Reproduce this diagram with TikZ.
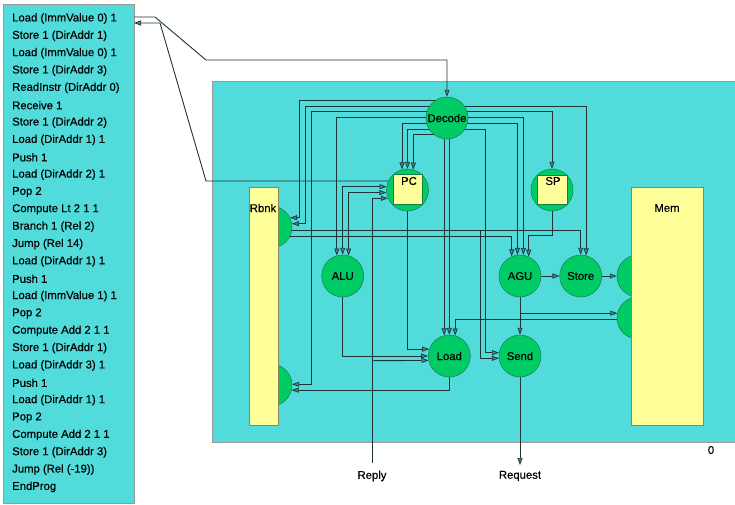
\documentclass[tikz,border=0pt]{standalone}
\usepackage{fontspec}
\setmainfont{Liberation Sans}[FakeBold=0.35]
\usetikzlibrary{arrows.meta,calc}
\definecolor{cyanbg}{RGB}{82,219,219}
\definecolor{grn}{RGB}{0,204,102}
\definecolor{grnb}{RGB}{25,125,75}
\definecolor{ylw}{RGB}{255,255,153}
\definecolor{ylwb}{RGB}{130,140,80}
\definecolor{wirec}{RGB}{30,52,52}
\definecolor{arrfill}{RGB}{60,140,140}
\pgfdeclarelayer{bg}\pgfdeclarelayer{wires}\pgfsetlayers{bg,wires,main}
\begin{document}
\begin{tikzpicture}[x=1pt,y=-1pt,
 font=\fontsize{11.3}{13}\selectfont,
 port/.style={circle,fill=grn,draw=grnb,line width=0.5pt,minimum size=42pt,inner sep=0pt},
 regbox/.style={rectangle,fill=ylw,draw=ylwb,line width=0.5pt,inner sep=0pt},
 wire/.style={draw=wirec,line width=0.9pt},
 arr/.style={wire,-{Triangle[length=7pt,width=5pt,fill=arrfill,line width=0.7pt]}},
 txt/.style={inner sep=0pt}]
\useasboundingbox (0,0) rectangle (735,504);
\begin{pgfonlayer}{bg}
\fill[white] (0,0) rectangle (735,504);
\node[draw=gray!80,fill=cyanbg,line width=0.8pt,minimum width=131pt,minimum height=499pt,inner sep=0pt,anchor=north west] (listing) at (3,4) {};
\node[draw=gray!80,fill=cyanbg,line width=0.8pt,minimum width=530pt,minimum height=361pt,inner sep=0pt,anchor=north west] (core) at (212,81) {};
\end{pgfonlayer}
\foreach \t [count=\i from 0] in {Load (ImmValue 0) 1,Store 1 (DirAddr 1),Load (ImmValue 0) 1,Store 1 (DirAddr 3),ReadInstr (DirAddr 0),Receive 1,Store 1 (DirAddr 2),Load (DirAddr 1) 1,Push 1,Load (DirAddr 2) 1,Pop 2,Compute Lt 2 1 1,Branch 1 (Rel 2),Jump (Rel 14),Load (DirAddr 1) 1,Push 1,Load (ImmValue 1) 1,Pop 2,Compute Add 2 1 1,Store 1 (DirAddr 1),Load (DirAddr 3) 1,Push 1,Load (DirAddr 1) 1,Pop 2,Compute Add 2 1 1,Store 1 (DirAddr 3),Jump (Rel (-19)),EndProg}
  \node[txt,anchor=west] (l\i) at (12,{18.5+17.35*\i}) {\t};
% nodes
\node[port] (rbu) at (271,227) {};
\node[port] (rbl) at (271,385) {};
\node[regbox,minimum width=29pt,minimum height=238pt] (rbnk) at (263.5,306) {};
\node[txt] (rbnklbl) at (263,208) {Rbnk};
\node[port] (memu) at (638,276) {};
\node[port] (meml) at (638,318) {};
\node[regbox,minimum width=72pt,minimum height=238pt] (mem) at (667,306) {};
\node[txt] (memlbl) at (667,208) {Mem};
\node[port] (decode) at (447,118) {Decode};
\node[port] (pc) at (407.5,190) {};
\node[regbox,draw=grnb,minimum width=29pt,minimum height=30pt] (pcsq) at (407.5,189) {};
\node[txt] (pclbl) at (409,181) {PC};
\node[port] (sp) at (552,190) {};
\node[regbox,draw=grnb,minimum width=30pt,minimum height=29pt] (spsq) at (552,189.5) {};
\node[txt] (splbl) at (553,181) {SP};
\node[port] (alu) at (342.7,276) {ALU};
\node[port] (agu) at (520,276) {AGU};
\node[port] (store) at (580.7,276) {Store};
\node[port] (load) at (449.3,356) {Load};
\node[port] (send) at (520,356) {Send};
\node[txt] (reply) at (372,476) {Reply};
\node[txt] (request) at (520,476) {Request};
\node[txt] (zero) at (711,450) {0};
\coordinate (lout) at (134,17);
\coordinate (lin) at (134,23);
\coordinate (replyend) at (372,463);
\coordinate (reqend) at (520,465);
\begin{pgfonlayer}{wires}
% external
\draw[arr] (lout) -- (155,17) -- (206,60) -- (decode.north |- 0,60) -- (decode.north);
\draw[arr] (pc.center |- 0,181) -- (206,181) -- (160,23) -- (lin);
\draw[arr] (replyend) |- (pc.203.3);
\draw[arr] (replyend |- 0,360.7) -- (load.192.9);
\draw[arr] (send.center) -- (reqend);
% decode left
\draw[arr] (decode.center |- 0,100.7) -- (299.3,100.7) |- (rbu.26.9);
\draw[arr] (decode.center |- 0,106) -- (305.3,106) |- (rbu.9.6);
\draw[arr] (decode.center |- 0,111.7) -- (311,111.7) |- (rbl.2);
\draw[arr] (decode.center |- 0,117.3) -| (alu.106.6);
\draw[arr] (decode.center |- 0,123.3) -| (pc.105.5);
\draw[arr] (decode.center |- 0,129) -| (pc.north);
\draw[arr] (decode.center |- 0,134.7) -| (pc.74.5);
% decode right
\draw[arr] (decode.center |- 0,106) -| (store.75.4);
\draw[arr] (decode.center |- 0,111.7) -| (sp.north);
\draw[arr] (decode.center |- 0,117.3) -| (agu.81.8);
\draw[arr] (decode.center |- 0,123.3) -| (agu.97.4);
\draw[arr] (decode.center |- 0,129) -- (485.3,129) |- (send.171);
\draw[arr] (load.104.6 |- decode.center) -- (load.104.6);
\draw[arr] (load.north |- decode.center) -- (load.north);
% others
\draw[arr] (pc.center) |- (load.161.4);
\draw[arr] (alu.center) |- (load.west);
\draw[arr] (load.center) |- (rbl.346.2);
\draw[arr] (sp.center) -- (sp.center |- 0,235) -| (agu.66.7);
\draw[arr] (agu.east) -- (store.west);
\draw[arr] (store.east) -- (memu.west);
\draw[arr] (agu.center) |- (meml.167.1);
\draw[arr] (agu.south) -- (send.north);
\draw[arr] (meml.center |- 0,319.3) -| (load.74.2);
% register bank read ports
\draw[arr] (rbu.center |- 0,230) -| (store.north);
\draw[arr] (rbu.center |- 0,230) -- (480,230) |- (send.186.3);
\draw[arr] (rbu.center |- 0,230) -| (alu.north);
\draw[arr] (rbu.center |- 0,230) -- (alu.north |- 0,230) |- (pc.171);
\draw[arr] (rbu.center |- 0,236) -| (agu.113.3);
\draw[arr] (rbu.center |- 0,236) -| (alu.74.6);
\draw[arr] (rbu.center |- 0,236) -- (alu.74.6 |- 0,236) |- (pc.187.4);
\end{pgfonlayer}
\end{tikzpicture}
\end{document}
